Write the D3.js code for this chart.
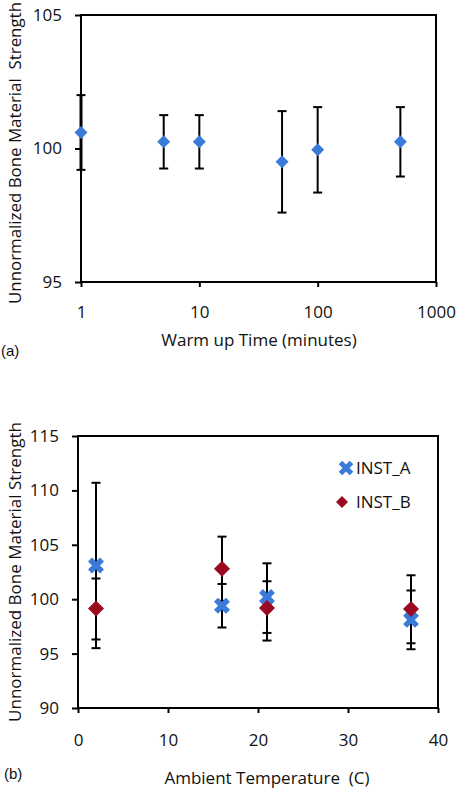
<!DOCTYPE html>
<html><head><meta charset="utf-8">
<script src="https://cdn.jsdelivr.net/npm/d3@7"></script>
<style>body{margin:0;background:#fff}svg{display:block}</style>
</head><body>
<svg id="c" width="456" height="788"></svg>
<script>
// Panel (a)
const warmTimes = [1, 5, 10, 50, 100, 500];
const warmValues = [100.6, 100.25, 100.25, 99.5, 99.95, 100.25];
const warmErr = [1.4, 1.0, 1.0, 1.9, 1.6, 1.3];
const warmXTicks = [1, 10, 100, 1000];
const warmYTicks = [95, 100, 105];

// Panel (b)
const temps = [2, 16, 21, 37];
const instA = [103.1, 99.4, 100.2, 98.1];
const instALow = [95.5, 97.4, 96.2, 95.4];
const instAHigh = [110.7, 101.4, 103.3, 100.8];
const instB = [99.15, 102.8, 99.2, 99.1];
const instBLow = [96.3, 99.85, 96.9, 95.95];
const instBHigh = [101.9, 105.75, 101.65, 102.2];
const tempXTicks = [0, 10, 20, 30, 40];
const tempYTicks = [90, 95, 100, 105, 110, 115];
const seriesNames = ["INST_A", "INST_B"];

const BLUE = "#3a7ad9", RED = "#9a0a20";
const FONT = "'Open Sans', sans-serif";
const FS = 17;
const svg = d3.select("#c");

function axisStyle(g){
  g.selectAll("path.domain").remove();
  g.selectAll("line").attr("stroke","#000").attr("stroke-width",2);
  g.selectAll("text").attr("font-family",FONT).attr("font-size",FS).attr("fill","#111");
}

// ---------- Panel (a) ----------
const A = {l:81, r:436, t:15, b:282};
const xa = d3.scaleLog().domain([1,1000]).range([A.l, A.r]);
const ya = d3.scaleLinear().domain([95,105]).range([A.b, A.t]);
const ga = svg.append("g");
ga.append("rect").attr("x",A.l).attr("y",A.t).attr("width",A.r-A.l).attr("height",A.b-A.t)
  .attr("fill","none").attr("stroke","#000").attr("stroke-width",2);
ga.append("g").attr("transform",`translate(0,${A.b})`)
  .call(d3.axisBottom(xa).tickValues(warmXTicks).tickFormat(d3.format("d")).tickSize(5).tickPadding(19))
  .call(axisStyle);
ga.append("g").attr("transform",`translate(${A.l},0)`)
  .call(d3.axisLeft(ya).tickValues(warmYTicks).tickSize(6).tickPadding(13))
  .call(axisStyle);
// error bars
const ea = ga.append("g").attr("stroke","#000").attr("stroke-width",2);
warmTimes.forEach((t,i)=>{
  const x = xa(t), y1 = ya(warmValues[i]-warmErr[i]), y2 = ya(warmValues[i]+warmErr[i]);
  ea.append("line").attr("x1",x).attr("x2",x).attr("y1",y1).attr("y2",y2).attr("stroke-width", i===0?3:2);
  [y1,y2].forEach(y=>ea.append("line").attr("x1",x-4.5).attr("x2",x+4.5).attr("y1",y).attr("y2",y));
});
ga.selectAll("path.pt").data(warmTimes).join("path")
  .attr("d","M0,-6.5L6.5,0L0,6.5L-6.5,0Z").attr("fill",BLUE)
  .attr("transform",(d,i)=>`translate(${xa(d)},${ya(warmValues[i])})`);
const yla = ga.append("text").attr("transform",`translate(21,304) rotate(-90)`)
  .attr("text-anchor","start").attr("font-family",FONT).attr("font-size",FS).attr("fill","#111")
  .attr("xml:space","preserve").style("white-space","pre")
  .text("Unnormalized Bone Material  Strength");
if (yla.node().getComputedTextLength() > 302) yla.attr("textLength",302).attr("lengthAdjust","spacingAndGlyphs");
ga.append("text").attr("x",259).attr("y",346).attr("text-anchor","middle")
  .attr("font-family",FONT).attr("font-size",FS).attr("fill","#111").text("Warm up Time (minutes)");
ga.append("text").attr("x",1).attr("y",356).attr("font-family","'Liberation Sans', Arial, sans-serif")
  .attr("font-size",15).attr("fill","#111").text("(a)");

// ---------- Panel (b) ----------
const B = {l:78, r:438, t:436, b:708};
const xb = d3.scaleLinear().domain([0,40]).range([B.l, B.r]);
const yb = d3.scaleLinear().domain([90,115]).range([B.b, B.t]);
const gb = svg.append("g");
gb.append("rect").attr("x",B.l).attr("y",B.t).attr("width",B.r-B.l).attr("height",B.b-B.t)
  .attr("fill","none").attr("stroke","#000").attr("stroke-width",2);
gb.append("g").attr("transform",`translate(0,${B.b})`)
  .call(d3.axisBottom(xb).tickValues(tempXTicks).tickSize(5).tickPadding(21))
  .call(axisStyle);
gb.append("g").attr("transform",`translate(${B.l},0)`)
  .call(d3.axisLeft(yb).tickValues(tempYTicks).tickSize(6).tickPadding(13))
  .call(axisStyle);
const eb = gb.append("g").attr("stroke","#000").attr("stroke-width",2);
function errBar(x, lo, hi){
  const y1 = yb(lo), y2 = yb(hi);
  eb.append("line").attr("x1",x).attr("x2",x).attr("y1",y1).attr("y2",y2);
  [y1,y2].forEach(y=>eb.append("line").attr("x1",x-4.5).attr("x2",x+4.5).attr("y1",y).attr("y2",y));
}
temps.forEach((t,i)=>{ errBar(xb(t), instALow[i], instAHigh[i]); errBar(xb(t), instBLow[i], instBHigh[i]); });
const xPath = "M-6,-6L6,6M6,-6L-6,6";
gb.selectAll("path.a").data(temps).join("path")
  .attr("d",xPath).attr("stroke",BLUE).attr("stroke-width",5.5).attr("fill","none")
  .attr("transform",(d,i)=>`translate(${xb(d)},${yb(instA[i])})`);
gb.selectAll("path.b").data(temps).join("path")
  .attr("d","M0,-8L8,0L0,8L-8,0Z").attr("fill",RED)
  .attr("transform",(d,i)=>`translate(${xb(d)},${yb(instB[i])})`);
// legend
const lg = gb.append("g");
lg.append("path").attr("d","M-5.5,-5.5L5.5,5.5M5.5,-5.5L-5.5,5.5").attr("stroke",BLUE).attr("stroke-width",5)
  .attr("transform","translate(346,468)");
lg.append("path").attr("d","M0,-6L6,0L0,6L-6,0Z").attr("fill",RED).attr("transform","translate(342,502)");
lg.append("text").attr("x",356).attr("y",474).attr("font-family",FONT).attr("font-size",FS).attr("fill","#111").text(seriesNames[0]);
lg.append("text").attr("x",356).attr("y",508).attr("font-family",FONT).attr("font-size",FS).attr("fill","#111").text(seriesNames[1]);
gb.append("text").attr("transform",`translate(21,${(B.t+B.b)/2}) rotate(-90)`)
  .attr("text-anchor","middle").attr("font-family",FONT).attr("font-size",FS).attr("fill","#111")
  .text("Unnormalized Bone Material Strength");
gb.append("text").attr("x",267).attr("y",784).attr("text-anchor","middle")
  .attr("font-family",FONT).attr("font-size",FS).attr("fill","#111")
  .attr("xml:space","preserve").style("white-space","pre").text("Ambient Temperature  (C)");
gb.append("text").attr("x",4).attr("y",779).attr("font-family","'Liberation Sans', Arial, sans-serif")
  .attr("font-size",15).attr("fill","#111").text("(b)");
</script>
</body></html>
